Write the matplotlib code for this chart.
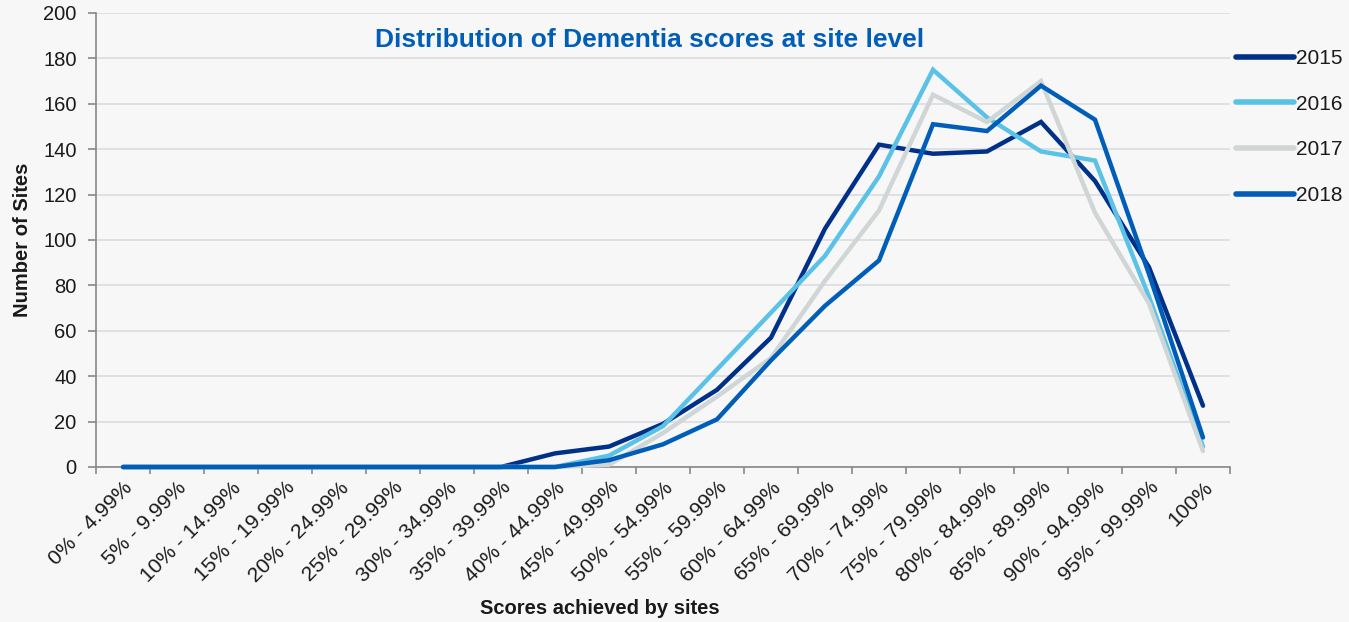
import matplotlib
matplotlib.use("Agg")
import matplotlib.pyplot as plt
import numpy as np

categories = ["0% - 4.99%", "5% - 9.99%", "10% - 14.99%", "15% - 19.99%", "20% - 24.99%",
              "25% - 29.99%", "30% - 34.99%", "35% - 39.99%", "40% - 44.99%", "45% - 49.99%",
              "50% - 54.99%", "55% - 59.99%", "60% - 64.99%", "65% - 69.99%", "70% - 74.99%",
              "75% - 79.99%", "80% - 84.99%", "85% - 89.99%", "90% - 94.99%", "95% - 99.99%",
              "100%"]
s2015 = [0, 0, 0, 0, 0, 0, 0, 0, 6, 9, 19, 34, 57, 105, 142, 138, 139, 152, 126, 88, 27]
s2016 = [0, 0, 0, 0, 0, 0, 0, 0, 0, 5, 18, 43, 68, 93, 128, 175, 154, 139, 135, 75, 9]
s2017 = [0, 0, 0, 0, 0, 0, 0, 0, 0, 1, 15, 31, 48, 82, 113, 164, 152, 170, 112, 72, 7]
s2018 = [0, 0, 0, 0, 0, 0, 0, 0, 0, 3, 10, 21, 47, 71, 91, 151, 148, 168, 153, 85, 13]
series = [("2015", s2015, "#003087"), ("2016", s2016, "#5BC2E7"),
          ("2017", s2017, "#D0D5D6"), ("2018", s2018, "#005EB8")]

plt.rcParams['font.family'] = ['Liberation Sans', 'DejaVu Sans']
bg = "#F7F7F7"
txt = "#1A1A1A"
fig = plt.figure(figsize=(13.49, 6.22), dpi=100, facecolor=bg)
W, H = 1349, 622
ax = fig.add_axes([96 / W, 155 / H, (1230 - 96) / W, (467 - 13) / H])
ax.set_facecolor(bg)

x = np.arange(len(categories))
for name, vals, col in series:
    ax.plot(x, vals, color=col, lw=3.2, label=name, solid_capstyle='round',
            solid_joinstyle='miter', clip_on=False, zorder=3)

ax.set_xlim(-0.5, len(categories) - 0.5)
ax.set_ylim(0, 200)
ax.set_yticks(np.arange(0, 201, 20))
ax.grid(axis='y', color='#D9DCE0', lw=1.2, zorder=0)
ax.set_axisbelow(True)

ax.set_xticks(x)
ax.set_xticklabels(categories, rotation=45, ha='right', rotation_mode='anchor', fontsize=15.2,
                   color=txt)
ax.set_xticks(np.arange(-0.5, len(categories) + 0.5, 1), minor=True)
ax.tick_params(axis='x', which='major', length=0, pad=8)
ax.tick_params(axis='x', which='minor', length=5, color='#888888', width=1.2)
ax.tick_params(axis='y', length=6, color='#888888', width=1.2, labelsize=14.5,
               labelcolor=txt, pad=8)

for sp in ['top', 'right']:
    ax.spines[sp].set_visible(False)
for sp in ['left', 'bottom']:
    ax.spines[sp].set_color('#888888')
    ax.spines[sp].set_linewidth(1.2)

fig.text(23 / W, 1 - 240 / H, "Number of Sites", fontsize=14.5, fontweight='bold',
         color=txt, ha='center', va='center', rotation=90)
fig.text(600 / W, 1 - 608 / H, "Scores achieved by sites", fontsize=14.5, fontweight='bold',
         color=txt, ha='center', va='center')
fig.text(650 / W, 1 - 40 / H, "Distribution of Dementia scores at site level", fontsize=19,
         fontweight='bold', color='#005EB8', ha='center', va='center')

leg = ax.legend(loc='upper left', bbox_to_anchor=(1236 / W, 1 - 49 / H),
                bbox_transform=fig.transFigure, frameon=False, fontsize=15,
                handlelength=2.8, handletextpad=0.1, labelspacing=1.28, borderaxespad=0,
                borderpad=0)
for line in leg.get_lines():
    line.set_linewidth(4)
for t in leg.get_texts():
    t.set_color(txt)

fig.savefig("out.png", dpi=100, facecolor=bg)
